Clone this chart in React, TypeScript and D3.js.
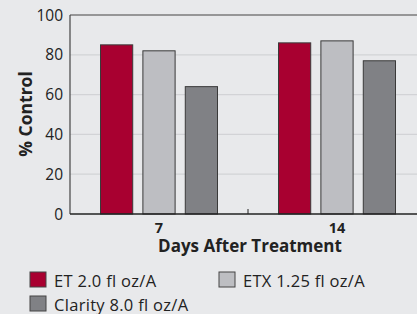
import React from "react";
import * as d3 from "d3";

const categories = ["7", "14"];
const series = ["ET 2.0 fl oz/A", "ETX 1.25 fl oz/A", "Clarity 8.0 fl oz/A"];
const values: number[][] = [
  [85, 82, 64],
  [86, 87, 77],
];
const colors = ["#a80030", "#bdbec2", "#808185"];
const yTicks = [0, 20, 40, 60, 80, 100];

const W = 417;
const H = 314;
const left = 70;
const top = 15;
const bottom = 214;
const right = 426;
const font = "'Open Sans', sans-serif";

export default function App() {
  const x = d3.scaleBand<string>().domain(categories).range([left, right]);
  const inner = d3
    .scaleBand<string>()
    .domain(series)
    .range([0, 117])
    .paddingInner(0.24);
  const y = d3.scaleLinear().domain([0, 100]).range([bottom, top]);
  const bw = x.bandwidth();

  const legendPos = [
    { x: 30, y: 272 },
    { x: 219, y: 272 },
    { x: 30, y: 296 },
  ];

  return (
    <svg
      width={W}
      height={H}
      style={{ position: "absolute", left: 0, top: 0, display: "block" }}
    >
      <rect x={0} y={0} width={W} height={H} fill="#e8e9eb" />
      {yTicks
        .filter((t) => t > 0 && t < 100)
        .map((t) => (
          <line
            key={t}
            x1={left}
            x2={W}
            y1={y(t)}
            y2={y(t)}
            stroke="#d2d3d6"
            strokeWidth={1.2}
          />
        ))}
      {yTicks.map((t) => (
        <text
          key={t}
          x={63}
          y={y(t)}
          dy="0.36em"
          textAnchor="end"
          fontFamily={font}
          fontSize={15.5}
          fill="#222"
        >
          {t}
        </text>
      ))}
      {categories.map((c, ci) =>
        series.map((s, si) => {
          const bx = (x(c) as number) + (bw - 117) / 2 + (inner(s) as number);
          return (
            <rect
              key={c + s}
              x={bx}
              y={y(values[ci][si])}
              width={inner.bandwidth()}
              height={bottom - y(values[ci][si])}
              fill={colors[si]}
              stroke="#3a3a3a"
              strokeWidth={1}
            />
          );
        })
      )}
      <line x1={left} x2={W} y1={top} y2={top} stroke="#444" strokeWidth={1.2} />
      <line x1={left} x2={left} y1={top} y2={bottom} stroke="#444" strokeWidth={1.2} />
      <line x1={left} x2={W} y1={bottom} y2={bottom} stroke="#222" strokeWidth={1.5} />
      {categories.slice(1).map((c) => (
        <line
          key={c}
          x1={x(c) as number}
          x2={x(c) as number}
          y1={bottom - 5}
          y2={bottom}
          stroke="#222"
          strokeWidth={1}
        />
      ))}
      {categories.map((c) => (
        <text
          key={c}
          x={(x(c) as number) + bw / 2}
          y={232.5}
          textAnchor="middle"
          fontFamily={font}
          fontWeight="bold"
          fontSize={14.5}
          fill="#222"
        >
          {c}
        </text>
      ))}
      <text
        x={250}
        y={252}
        textAnchor="middle"
        fontFamily={font}
        fontWeight="bold"
        fontSize={17}
        fill="#222"
      >
        Days After Treatment
      </text>
      <text
        transform={`translate(31.5, 114) rotate(-90)`}
        textAnchor="middle"
        fontFamily={font}
        fontWeight="bold"
        fontSize={17.5}
        fill="#222"
      >
        % Control
      </text>
      {series.map((s, i) => (
        <g key={s} transform={`translate(${legendPos[i].x}, ${legendPos[i].y})`}>
          <rect width={16} height={15} fill={colors[i]} stroke="#444" strokeWidth={1} />
          <text
            x={24}
            y={15}
            fontFamily={font}
            fontSize={16.5}
            letterSpacing={0.3}
            fill="#222"
          >
            {s}
          </text>
        </g>
      ))}
    </svg>
  );
}
